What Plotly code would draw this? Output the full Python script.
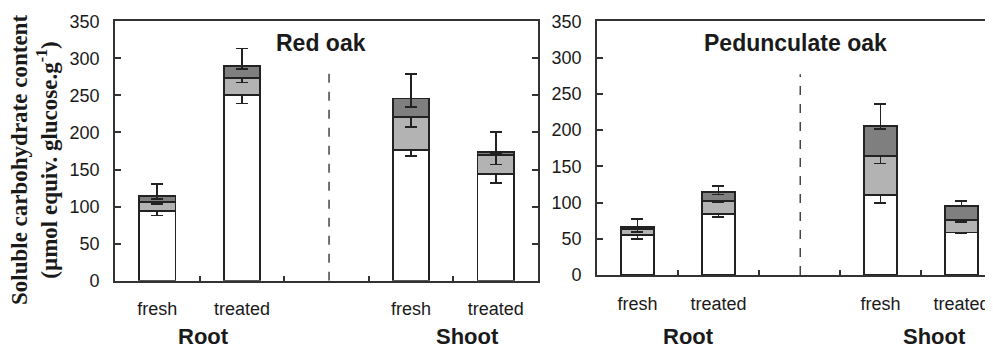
import plotly.graph_objects as go

# ---------------- data ----------------
x_pos = [0, 1, 3, 4]
x_labels = ["fresh", "treated", "fresh", "treated"]
boundary_ticks = [0.5, 1.5, 2.5, 3.5]
y_ticks = [0, 50, 100, 150, 200, 250, 300, 350]

# Red oak (stacked segments)
red_white = [94.3, 250.3, 176.1, 143.8]
red_light = [12.2, 23.3, 44.9, 25.6]
red_dark = [7.7, 15.8, 24.8, 4.5]
red_white_err = [6.2, 11.2, 8.1, 12.5]
red_light_err = [3.5, 6.2, 13.5, 12.5]
red_dark_err_plus = [15.8, 23.8, 32.7, 27.2]
red_dark_err_minus = [4.4, 4.0, 11.3, 1.5]

# Pedunculate oak
ped_white = [55.2, 84.0, 110.8, 58.6]
ped_light = [8.0, 18.0, 52.9, 17.8]
ped_dark = [3.5, 13.0, 42.3, 19.0]
ped_white_err = [6.0, 3.5, 11.9, 1.4]
ped_light_err = [4.0, 2.0, 10.0, 2.9]
ped_dark_err_plus = [10.2, 7.9, 29.5, 6.9]
ped_dark_err_minus = [4.0, 4.0, 5.0, 0.0]

panel_titles = ["Red oak", "Pedunculate oak"]
group_labels = ["Root", "Shoot"]
y_title = "Soluble carbohydrate content<br>(µmol equiv. glucose.g<sup>-1</sup>)"

# ---------------- style ----------------
SANS = "Liberation Sans, Arial, sans-serif"
SERIF = "Liberation Serif, Times New Roman, serif"
INK = "#1a1a1a"
FRAME = "#333333"
COL_WHITE = "#ffffff"
COL_LIGHT = "#b3b3b3"
COL_DARK = "#7f7f7f"

# the page body has an 8px default margin; size the figure so it fills the window
OFF = 8
W, H = 993 - OFF, 350 - OFF


def fx(px):
    return (px - OFF) / W


def fy(py):
    return 1 - (py - OFF) / H


fig = go.Figure()


def add_stack(xa, ya, white, light, dark, werr, lerr, dplus, dminus, bw):
    zeros = [0] * len(white)
    common = dict(x=x_pos, xaxis=xa, yaxis=ya, width=bw, showlegend=False,
                  marker_line=dict(color="#222222", width=1.8))
    eb = dict(type="data", symmetric=False, color="#222222", thickness=1.8, width=6)
    fig.add_trace(go.Bar(y=white, marker_color=COL_WHITE,
                         error_y=dict(array=zeros, arrayminus=werr, **eb), **common))
    fig.add_trace(go.Bar(y=light, marker_color=COL_LIGHT,
                         error_y=dict(array=zeros, arrayminus=lerr, **eb), **common))
    fig.add_trace(go.Bar(y=dark, marker_color=COL_DARK,
                         error_y=dict(array=dplus, arrayminus=dminus, **eb), **common))


add_stack("x", "y", red_white, red_light, red_dark, red_white_err, red_light_err,
          red_dark_err_plus, red_dark_err_minus, 0.43)
add_stack("x2", "y2", ped_white, ped_light, ped_dark, ped_white_err, ped_light_err,
          ped_dark_err_plus, ped_dark_err_minus, 0.41)


def xaxis_cfg(domain, rng, anchor):
    return dict(domain=domain, range=rng, anchor=anchor, automargin=False,
                showgrid=False, zeroline=False,
                showline=True, linecolor=FRAME, linewidth=1.8, mirror=True,
                tickmode="array", tickvals=x_pos, ticktext=x_labels,
                ticks="inside", ticklen=0, tickcolor=FRAME, tickwidth=1.5,
                ticklabelstandoff=11,
                tickfont=dict(family=SANS, size=18, color=INK),
                minor=dict(tickmode="array", tickvals=boundary_ticks, ticks="inside",
                           ticklen=5, tickwidth=1.5, tickcolor=FRAME, showgrid=False))


def yaxis_cfg(domain, anchor, mirror):
    return dict(domain=domain, range=[0, 350], anchor=anchor, automargin=False,
                showgrid=False, zeroline=False, showline=True, linecolor=FRAME,
                linewidth=1.8, mirror=mirror, tickmode="array", tickvals=y_ticks,
                ticks="inside", ticklen=6, tickwidth=1.5, tickcolor=FRAME,
                ticklabelstandoff=10,
                tickfont=dict(family=SANS, size=18, color=INK))


fig.update_layout(
    template="none",
    width=W, height=H,
    margin=dict(l=0, r=0, t=0, b=0, autoexpand=False),
    paper_bgcolor="white", plot_bgcolor="white",
    barmode="stack",
    xaxis=xaxis_cfg([fx(115), fx(538)], [-0.5, 4.5], "y"),
    yaxis=yaxis_cfg([fy(280.7), fy(21.3)], "x", "ticks"),
    xaxis2=xaxis_cfg([fx(597), 1.0], [-0.5, 4.39], "y2"),
    yaxis2=yaxis_cfg([fy(275), fy(21.3)], "x2", False),
)

# dashed separators
fig.add_shape(type="line", xref="x", yref="y", x0=2.03, x1=2.03, y0=0, y1=285,
              line=dict(color="#444444", width=1.5, dash="dash"))
fig.add_shape(type="line", xref="x2", yref="y2", x0=2.01, x1=2.01, y0=0, y1=277,
              line=dict(color="#444444", width=1.5, dash="dash"))

# panel titles
fig.add_annotation(text="<b>%s</b>" % panel_titles[0], xref="x", yref="paper",
                   x=1.93, y=fy(43), showarrow=False, xanchor="center", yanchor="middle",
                   font=dict(family=SANS, size=23, color=INK))
fig.add_annotation(text="<b>%s</b>" % panel_titles[1], xref="x2", yref="paper",
                   x=1.95, y=fy(43), showarrow=False, xanchor="center", yanchor="middle",
                   font=dict(family=SANS, size=23, color=INK))

# group labels
for xr, xs in (("x", [0.546, 3.67]), ("x2", [0.63, 3.67])):
    for lab, xv in zip(group_labels, xs):
        fig.add_annotation(text="<b>%s</b>" % lab, xref=xr, yref="paper", x=xv,
                           y=fy(336), showarrow=False, xanchor="center",
                           yanchor="middle", font=dict(family=SANS, size=22, color=INK))

# y-axis title
fig.add_annotation(text="<b>%s</b>" % y_title, xref="paper", yref="paper",
                   x=fx(34), y=fy(160), textangle=-90, showarrow=False,
                   xanchor="center", yanchor="middle",
                   font=dict(family=SERIF, size=23, color=INK))

fig.write_html("out.html")
